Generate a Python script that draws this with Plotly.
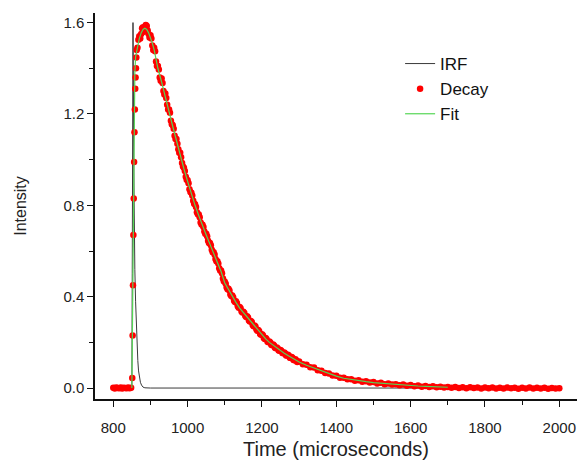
import numpy as np
import plotly.graph_objects as go

# ---------------- data ----------------
# IRF (instrument response function)
irf_time = [800, 820, 840, 850, 851, 852, 853, 854, 855, 856, 857, 858, 860, 862, 864,
            866, 868, 870, 873, 876, 880, 885, 900, 1200, 1600, 2000]
irf_value = [0.0, 0.0, 0.0, 0.0, 0.50, 1.20, 1.60, 1.35, 1.00, 0.78, 0.62, 0.52, 0.38,
             0.27, 0.18, 0.12, 0.075, 0.047, 0.025, 0.013, 0.004, 0.001, 0.0, 0.0, 0.0, 0.0]

# Decay: baseline before the pulse (800..848, every 4 us)
base_time = np.arange(800, 849, 4)
base_value = [0.001, -0.002, 0.002, 0.000, -0.001, 0.002, -0.002, 0.001, 0.000,
              -0.001, 0.002, -0.001, 0.001]

# Decay: rising edge
rise_time = [851, 852, 853, 854, 855, 856, 857, 858, 859, 860, 861, 862, 863]
rise_value = [0.044, 0.23, 0.45, 0.67, 0.83, 0.99, 1.12, 1.22, 1.31, 1.36, 1.40, 1.447, 1.48]

# Decay: main part, every 5 us (865..1295)
main_time = np.arange(865, 1296, 5)
main_value = [
    1.49, 1.54, 1.55, 1.58, 1.57, 1.585, 1.55, 1.545, 1.50, 1.49,
    1.43, 1.41, 1.36, 1.355, 1.30, 1.29, 1.24, 1.22, 1.17, 1.15,
    1.105, 1.09, 1.045, 1.03, 0.985, 0.965, 0.925, 0.91, 0.87, 0.855,
    0.82, 0.805, 0.77, 0.76, 0.725, 0.715, 0.685, 0.675, 0.645, 0.635,
    0.605, 0.595, 0.565, 0.555, 0.525, 0.515, 0.48, 0.465, 0.44, 0.435,
    0.41, 0.405, 0.382, 0.38, 0.358, 0.355, 0.335, 0.334, 0.316, 0.314,
    0.296, 0.294, 0.276, 0.274, 0.256, 0.254, 0.237, 0.236, 0.219, 0.219,
    0.203, 0.204, 0.189, 0.191, 0.176, 0.178, 0.164, 0.167, 0.153, 0.156,
    0.143, 0.146, 0.133, 0.136, 0.123, 0.126, 0.114]

# Decay: main part, in-between samples (867.5..1292.5)
mid_time = np.arange(867.5, 1293, 5)
mid_value = [
    1.525, 1.53, 1.575, 1.56, 1.59, 1.565,
    1.535, 1.53, 1.48, 1.475, 1.41, 1.395, 1.345, 1.335, 1.285, 1.27,
    1.22, 1.205, 1.155, 1.135, 1.09, 1.07, 1.03, 1.01, 0.97, 0.95,
    0.912, 0.897, 0.858, 0.843, 0.807, 0.793, 0.761, 0.748, 0.716, 0.705,
    0.675, 0.665, 0.635, 0.625, 0.595, 0.585, 0.555, 0.545, 0.515, 0.503,
    0.468, 0.457, 0.433, 0.427, 0.403, 0.398, 0.377, 0.372, 0.352, 0.349,
    0.331, 0.329, 0.311, 0.309, 0.291, 0.289, 0.271, 0.269, 0.251, 0.249,
    0.233, 0.231, 0.215, 0.214, 0.200, 0.199, 0.187, 0.186, 0.174, 0.173,
    0.163, 0.162, 0.152, 0.151, 0.142, 0.141, 0.132, 0.131, 0.122, 0.121]

# Decay: tail, every 10 us (1300..2000)
tail_time = np.arange(1300, 2001, 10)
tail_value = [
    0.116, 0.104, 0.102, 0.091, 0.090, 0.078, 0.076, 0.066, 0.064, 0.055,
    0.054, 0.045, 0.045, 0.038, 0.039, 0.032, 0.034, 0.028, 0.030, 0.024,
    0.026, 0.020, 0.023, 0.017, 0.020, 0.015, 0.017, 0.012, 0.015, 0.010,
    0.013, 0.008, 0.011, 0.006, 0.009, 0.005, 0.008, 0.003, 0.006, 0.002,
    0.005, 0.001, 0.004, 0.000, 0.003, -0.001, 0.003, 0.000, 0.002, -0.002,
    0.002, -0.001, 0.002, -0.002, 0.001, -0.002, 0.002, -0.001, 0.001, -0.003,
    0.001, -0.002, 0.002, -0.002, 0.001, -0.002, 0.001, -0.003, 0.000, -0.002,
    -0.001]

# Fit curve
fit_time = [850, 852, 854, 856, 858, 860, 865, 870, 875, 880, 885, 890, 895, 900, 905,
            910, 920, 930, 940, 950, 960, 970, 980, 990, 1000, 1010, 1020, 1030, 1040,
            1050, 1060, 1070, 1080, 1090, 1100, 1110, 1120, 1130, 1140, 1150, 1160,
            1170, 1180, 1190, 1200, 1210, 1220, 1230, 1240, 1250, 1260, 1270, 1280,
            1290, 1300, 1320, 1340, 1360, 1380, 1400, 1420, 1440, 1460, 1480, 1500,
            1520, 1540, 1560, 1580, 1600, 1620, 1640, 1660, 1680, 1700]
fit_value = [0.0, 0.35, 0.85, 1.20, 1.38, 1.45, 1.50, 1.53, 1.555, 1.570, 1.575, 1.570,
             1.555, 1.535, 1.51, 1.48, 1.40, 1.34, 1.28, 1.21, 1.145, 1.08, 1.02, 0.96,
             0.905, 0.85, 0.80, 0.755, 0.71, 0.67, 0.63, 0.59, 0.55, 0.51, 0.46, 0.43,
             0.40, 0.375, 0.35, 0.33, 0.31, 0.29, 0.27, 0.25, 0.232, 0.215, 0.20, 0.187,
             0.174, 0.163, 0.152, 0.142, 0.132, 0.122, 0.114, 0.100, 0.088, 0.074, 0.062,
             0.052, 0.043, 0.037, 0.032, 0.028, 0.024, 0.021, 0.018, 0.016, 0.013,
             0.011, 0.009, 0.0075, 0.006, 0.0045, 0.0035]

x_ticks = [800, 1000, 1200, 1400, 1600, 1800, 2000]
y_ticks = [0.0, 0.4, 0.8, 1.2, 1.6]

decay_time = (list(base_time) + rise_time + list(main_time) + list(mid_time)
              + list(tail_time))
decay_value = base_value + rise_value + main_value + mid_value + tail_value

FONT = "Liberation Sans, Arial, sans-serif"

fig = go.Figure()
fig.add_trace(go.Scatter(x=irf_time, y=irf_value, mode="lines", name="IRF",
                         line=dict(color="#3a3a3a", width=1)))
fig.add_trace(go.Scatter(x=decay_time, y=decay_value, mode="markers", name="Decay",
                         marker=dict(color="#ff0000", size=6.5, line=dict(width=0))))
fig.add_trace(go.Scatter(x=fit_time, y=fit_value, mode="lines", name="Fit",
                         line=dict(color="#55d655", width=1.2)))

fig.update_layout(
    width=578, height=460,
    margin=dict(l=95, r=1, t=13, b=61),
    paper_bgcolor="white", plot_bgcolor="white",
    font=dict(family=FONT, color="#222222"),
    showlegend=True,
    legend=dict(x=0.633, y=0.9145, xanchor="left", yanchor="top",
                bgcolor="rgba(0,0,0,0)", borderwidth=0,
                font=dict(size=17, family=FONT, color="#111111"),
                tracegroupgap=0),
    xaxis=dict(range=[750.8, 2047.6], tickvals=x_ticks, ticks="outside", ticklen=6,
               tickwidth=1.2, tickcolor="#111", showline=True, linecolor="#111",
               linewidth=1.5, showgrid=False, zeroline=False, ticklabelstandoff=8,
               tickfont=dict(size=15, family=FONT, color="#222"),
               minor=dict(dtick=100, tick0=800, ticks="outside", ticklen=4,
                          tickwidth=1.2, tickcolor="#111", showgrid=False),
               title=dict(text="Time (microseconds)", font=dict(size=20, family=FONT, color="#222"),
                          standoff=10)),
    yaxis=dict(range=[-0.048, 1.642], tickvals=y_ticks, tickformat=".1f", ticks="outside",
               ticklen=6, tickwidth=1.2, tickcolor="#111", showline=True, linecolor="#111",
               linewidth=1.5, showgrid=False, zeroline=False,
               tickfont=dict(size=15, family=FONT, color="#222"),
               minor=dict(dtick=0.2, tick0=0, ticks="outside", ticklen=4,
                          tickwidth=1.2, tickcolor="#111", showgrid=False),
               title=dict(text="Intensity", font=dict(size=16, family=FONT, color="#222"),
                          standoff=33)),
)

fig.write_html("out.html")
